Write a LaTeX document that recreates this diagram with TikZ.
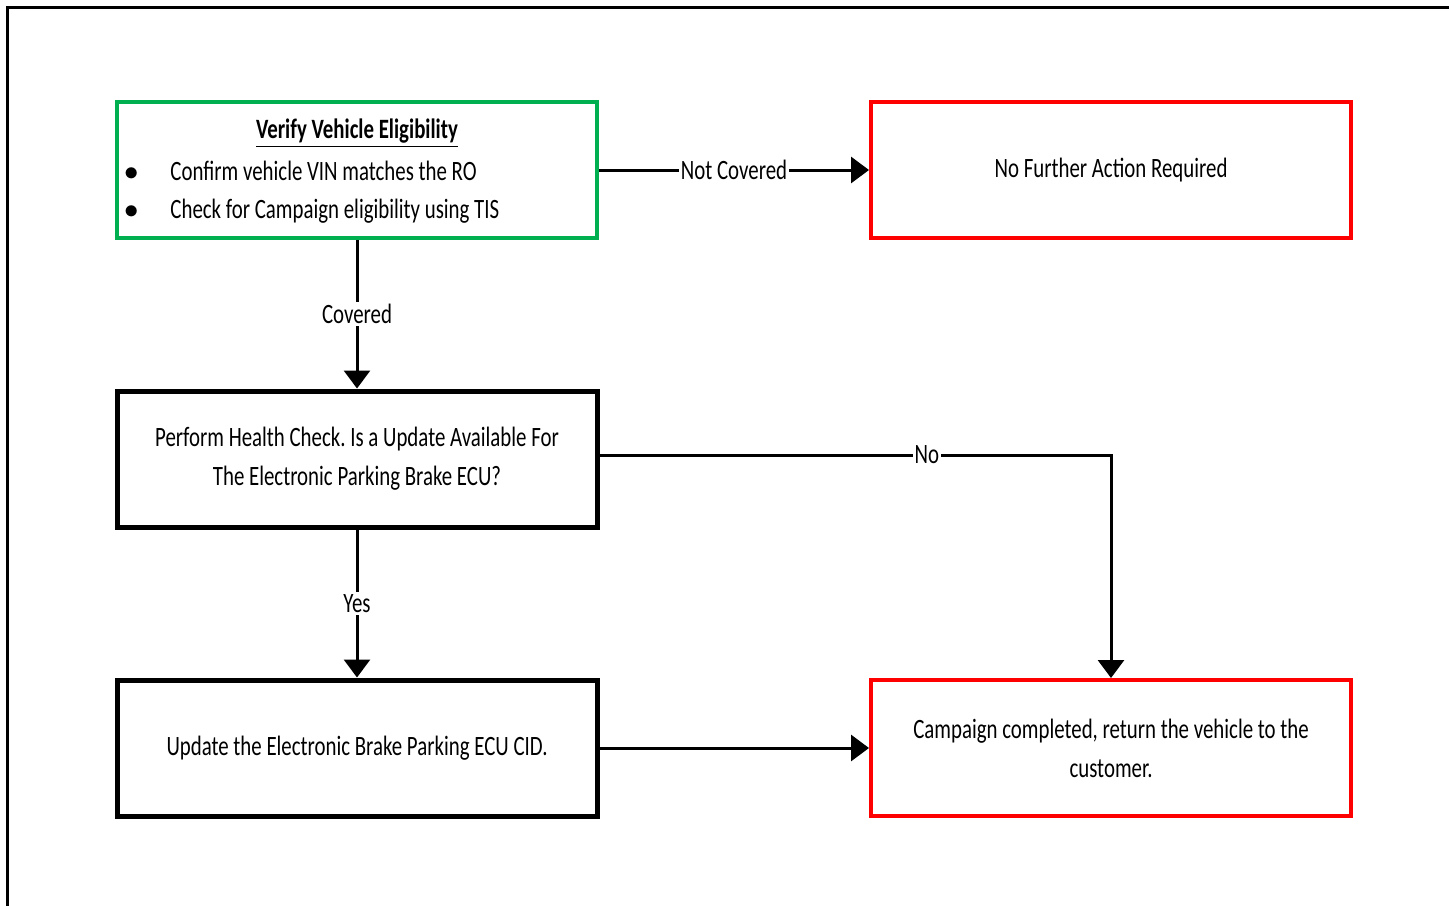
\documentclass[tikz,border=0pt]{standalone}
\usepackage{fontspec}
\setmainfont[FakeStretch=0.745]{Carlito}
\usetikzlibrary{arrows.meta, positioning}
\definecolor{okgreen}{HTML}{00B050}
\frenchspacing

\begin{document}
\begin{tikzpicture}[x=0.5pt, y=-0.5pt, font=\fontsize{14}{19.5}\selectfont,
	box/.style={draw, line width=2.2pt, minimum width=240pt, minimum height=68pt, align=center, inner sep=0pt},
	flow/.style={line width=1.5pt, -{Triangle[length=9pt, width=13pt]}},
	lbl/.style={fill=white, inner sep=1pt}]

	\useasboundingbox (0,0) rectangle (1449,905);
	\draw[line width=1.5pt] (7,910) -- (7,7) -- (1455,7);

	% boxes
	\node[box, draw=okgreen, line width=2pt] (verify) at (357,170) {};
	\node[box, draw=red, line width=2pt] (nofurther) at (1111,170) {No Further Action Required};
	\node[box, line width=2.5pt] (health) at (357,459) {Perform Health Check. Is a Update Available For\\The Electronic Parking Brake ECU?};
	\node[box, line width=2.5pt] (update) at (357,748) {Update the Electronic Brake Parking ECU CID.};
	\node[box, draw=red, line width=2pt] (done) at (1111,748) {Campaign completed, return the vehicle to the\\customer.};

	% text of the first box
	\node (vtitle) at (357,133) {\underline{\textbf{Verify Vehicle Eligibility}}};
	\node[anchor=west] (vbulleta) at (117,171) {$\bullet$\hspace{16pt}Confirm vehicle VIN matches the RO};
	\node[anchor=west] (vbulletb) at (117,211) {$\bullet$\hspace{16pt}Check for Campaign eligibility using TIS};

	% connectors
	\draw[flow] (verify) -- node[lbl] {Not Covered} (nofurther);
	\draw[flow] (verify) -- node[lbl] {Covered} (health);
	\draw[flow] (health) -- node[lbl] {Yes} (update);
	\draw[flow] ([yshift=2pt]health.east) -| node[lbl, pos=0.32] {No} (done.north);
	\draw[flow] (update) -- (done);

\end{tikzpicture}
\end{document}
